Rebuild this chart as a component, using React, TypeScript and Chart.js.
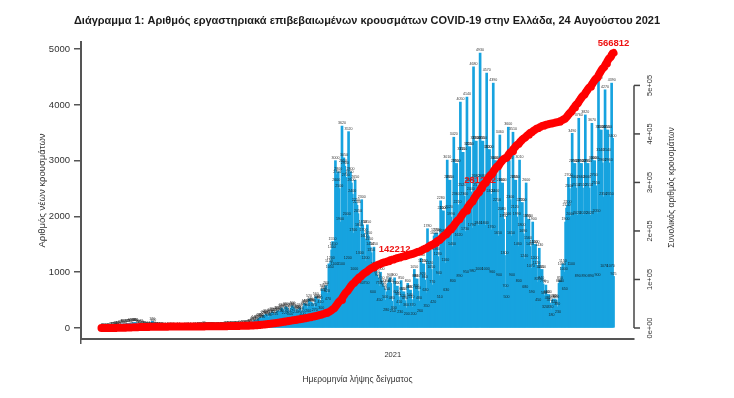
import React, { useEffect, useRef } from "react";
import { Chart, registerables } from "chart.js";

Chart.register(...registerables);

const TITLE =
  "Διάγραμμα 1: Αριθμός εργαστηριακά επιβεβαιωμένων κρουσμάτων COVID-19 στην Ελλάδα, 24 Αυγούστου 2021";
const Y_LEFT_TITLE = "Αριθμός νέων κρουσμάτων";
const Y_RIGHT_TITLE = "Συνολικός αριθμός κρουσμάτων";
const X_TITLE = "Ημερομηνία λήψης δείγματος";

// Daily new cases by sample date (day 0 = 26 Feb 2020)
const feb2020 = [1, 1, 2, 0];
const mar2020 = [2, 3, 4, 5, 8, 12, 18, 23, 15, 26, 28, 31, 38, 45, 30, 40, 52, 60, 75, 68, 62, 48, 70, 80, 72, 78, 85, 71, 52, 90, 96];
const apr2020 = [90, 100, 85, 70, 62, 55, 60, 72, 56, 48, 40, 35, 28, 25, 30, 34, 28, 24, 20, 120, 100, 40, 25, 22, 18, 20, 15, 12, 16, 14];
const may2020 = [15, 12, 10, 8, 14, 11, 9, 13, 10, 7, 12, 15, 9, 8, 11, 6, 10, 14, 12, 8, 5, 9, 11, 7, 6, 13, 10, 12, 9, 15, 11];
const jun2020 = [9, 12, 8, 15, 11, 14, 10, 18, 22, 16, 12, 20, 25, 35, 28, 19, 14, 20, 24, 17, 13, 18, 22, 26, 15, 12, 19, 23, 21, 17];
const jul2020 = [18, 25, 22, 30, 20, 28, 35, 32, 26, 40, 38, 30, 45, 42, 28, 36, 48, 44, 32, 25, 40, 46, 52, 38, 30, 55, 60, 48, 52, 62, 58];
const aug2020 = [72, 80, 65, 95, 110, 125, 140, 118, 102, 150, 160, 175, 190, 168, 140, 220, 230, 210, 250, 240, 195, 180, 260, 270, 245, 290, 265, 230, 205, 280, 300];
const sep2020 = [310, 290, 250, 340, 360, 330, 270, 220, 380, 370, 350, 310, 260, 200, 360, 400, 380, 350, 290, 230, 330, 320, 310, 360, 310, 250, 200, 380, 440, 410];
const oct2020 = [430, 360, 260, 520, 470, 460, 450, 430, 370, 270, 560, 500, 510, 520, 490, 410, 300, 700, 640, 660, 720, 760, 620, 470, 1150, 1050, 1200, 1400, 1550, 1450, 1100];
const nov2020 = [3000, 2600, 2750, 2800, 2500, 1900, 1100, 3620, 2950, 3050, 2900, 2700, 2000, 1200, 3520, 2750, 2800, 2600, 2400, 1700, 1000, 2650, 2250, 2200, 2050, 1800, 1300, 750, 2300, 1850];
const dec2020 = [1700, 1600, 1200, 750, 1850, 1650, 1550, 1450, 1350, 1000, 600, 1450, 1100, 1050, 950, 900, 750, 450, 1000, 850, 800, 750, 700, 500, 280, 650, 800, 850, 900, 800, 480];
const jan2021 = [250, 300, 900, 750, 600, 750, 560, 410, 230, 850, 650, 520, 650, 490, 360, 200, 800, 680, 540, 680, 510, 370, 200, 1050, 880, 700, 880, 660, 480, 260, 1250];
const feb2021 = [1150, 920, 1150, 860, 630, 350, 1780, 1400, 1120, 1400, 1050, 770, 420, 1650, 1700, 1360, 1700, 1280, 940, 510, 2280, 2100, 1680, 2100, 1580, 1160, 630, 3010];
const mar2021 = [2650, 2120, 2650, 1990, 1460, 800, 3420, 2950, 2360, 2950, 2210, 1620, 890, 4050, 3150, 2520, 3150, 2360, 1730, 950, 4140, 3250, 2600, 3250, 2440, 1790, 980, 4680, 3350, 2680, 3350];
const apr2021 = [2510, 1840, 1000, 4930, 3350, 2680, 3350, 2510, 1840, 1000, 4570, 3200, 2560, 3200, 2400, 1760, 960, 4390, 3000, 2400, 3000, 2250, 1650, 900, 3460, 2600, 2080, 2600, 1950, 1300];
const may2021 = [700, 500, 2000, 3600, 3000, 2300, 1650, 900, 3510, 2650, 2120, 2650, 1990, 1460, 800, 3010, 2250, 1800, 2250, 1690, 1240, 680, 2600, 1950, 1560, 1950, 1460, 1070, 590, 1900, 1500];
const jun2021 = [1200, 1500, 1120, 820, 450, 1430, 1050, 840, 1050, 790, 580, 320, 770, 600, 480, 600, 450, 330, 180, 500, 520, 420, 520, 500, 380, 230, 800, 850, 800, 1090];
const jul2021 = [1150, 1000, 650, 1900, 2150, 2200, 2700, 2500, 2000, 1100, 3490, 2950, 2660, 2950, 2510, 2020, 890, 3760, 2950, 2660, 2950, 2510, 2020, 890, 3820, 2950, 2660, 2950, 2510, 2020, 890];
const aug2021 = [3670, 3000, 2700, 3000, 2550, 2050, 900, 4440, 3550, 3140, 3550, 2960, 2350, 1070, 4270, 3550, 3140, 3550, 2960, 2350, 1070, 4390, 3400, 925];

const leftTicks = [0, 1000, 2000, 3000, 4000, 5000];
const rightTicks = [0, 100000, 200000, 300000, 400000, 500000];
const rightTickLabels = ["0e+00", "1e+05", "2e+05", "3e+05", "4e+05", "5e+05"];
const xTickDays = [310];
const xTickLabels = ["2021"];
const cumLabelDays = [312, 403, 545];
const cumLabelTexts = ["142212", "281212", "566812"];

const dailyCases: number[] = [
  feb2020, mar2020, apr2020, may2020, jun2020, jul2020, aug2020, sep2020, oct2020, nov2020, dec2020,
  jan2021, feb2021, mar2021, apr2021, may2021, jun2021, jul2021, aug2021,
].flat();
const dayIndex = dailyCases.map((_, i) => i);
const cumulativeCases: number[] = [];
dailyCases.reduce((acc, v) => {
  const s = acc + v;
  cumulativeCases.push(s);
  return s;
}, 0);

const FONT = "Liberation Sans";

const titlePlugin = {
  id: "pageTitle",
  afterDraw(chart: any) {
    const ctx = chart.ctx;
    ctx.save();
    ctx.font = `bold 11px '${FONT}'`;
    ctx.fillStyle = "#1a1a1a";
    ctx.textAlign = "center";
    ctx.textBaseline = "middle";
    ctx.fillText(TITLE, chart.width / 2, 21);
    ctx.restore();
  },
};

const valueLabelPlugin = {
  id: "valueLabels",
  afterDatasetDraw(chart: any, args: any) {
    if (args.index !== 0) return;
    const ctx = chart.ctx;
    ctx.save();
    ctx.font = `3.6px '${FONT}'`;
    ctx.fillStyle = "rgba(25,25,25,0.9)";
    ctx.textAlign = "center";
    ctx.textBaseline = "bottom";
    args.meta.data.forEach((el: any, i: number) => {
      ctx.fillText(String(dailyCases[i]), el.x, el.y - 1);
    });
    ctx.restore();
  },
};

const cumLabelPlugin = {
  id: "cumLabels",
  beforeDatasetDraw(chart: any, args: any) {
    if (args.index !== 1) return;
    const ctx = chart.ctx;
    const xs = chart.scales.x;
    const ys = chart.scales.y2;
    ctx.save();
    ctx.font = `bold 9.5px '${FONT}'`;
    ctx.fillStyle = "#ee1111";
    ctx.textAlign = "center";
    ctx.textBaseline = "middle";
    cumLabelDays.forEach((d, i) => {
      const x = xs.getPixelForValue(d);
      const y = ys.getPixelForValue(cumulativeCases[d]) - 9.5;
      ctx.fillText(cumLabelTexts[i], x, y);
    });
    ctx.restore();
  },
};

const rightAxisPlugin = {
  id: "rightAxis",
  afterDraw(chart: any) {
    const ctx = chart.ctx;
    const ys = chart.scales.y2;
    const x0 = chart.chartArea.right;
    ctx.save();
    ctx.strokeStyle = "#444";
    ctx.lineWidth = 1.5;
    ctx.beginPath();
    ctx.moveTo(x0, ys.getPixelForValue(rightTicks[0]));
    ctx.lineTo(x0, ys.getPixelForValue(rightTicks[rightTicks.length - 1]));
    ctx.stroke();
    ctx.fillStyle = "#333";
    ctx.font = `7.5px '${FONT}'`;
    ctx.textAlign = "center";
    ctx.textBaseline = "middle";
    rightTicks.forEach((v, i) => {
      const y = ys.getPixelForValue(v);
      ctx.beginPath();
      ctx.moveTo(x0, y);
      ctx.lineTo(x0 + 6, y);
      ctx.stroke();
      ctx.save();
      ctx.translate(x0 + 16, y);
      ctx.rotate(-Math.PI / 2);
      ctx.fillText(rightTickLabels[i], 0, 0);
      ctx.restore();
    });
    const area = chart.chartArea;
    ctx.save();
    ctx.font = `8.5px '${FONT}'`;
    ctx.translate(x0 + 38, (area.top + area.bottom) / 2 - 3);
    ctx.rotate(-Math.PI / 2);
    ctx.fillText(Y_RIGHT_TITLE, 0, 0);
    ctx.restore();
    ctx.restore();
  },
};

export default function App() {
  const ref = useRef<HTMLCanvasElement>(null);

  useEffect(() => {
    if (!ref.current) return;
    const nMax = Math.max(...dailyCases);
    const cMax = cumulativeCases[cumulativeCases.length - 1];
    const nDays = dailyCases.length - 1;
    const pad = 0.04;

    const chart = new Chart(ref.current, {
      type: "bar",
      data: {
        datasets: [
          {
            type: "bar",
            label: "daily",
            data: dayIndex.map((i) => ({ x: i, y: dailyCases[i] })),
            backgroundColor: "#17a3df",
            borderWidth: 0,
            barThickness: 2,
            yAxisID: "y",
            xAxisID: "x",
            order: 2,
          } as any,
          {
            type: "line",
            label: "cumulative",
            data: dayIndex.map((i) => ({ x: i, y: cumulativeCases[i] })),
            borderColor: "#ff0000",
            borderWidth: 8,
            pointRadius: 0,
            tension: 0,
            borderCapStyle: "round",
            borderJoinStyle: "round",
            yAxisID: "y2",
            xAxisID: "x",
            order: 1,
          } as any,
        ],
      },
      options: {
        animation: false,
        responsive: false,
        devicePixelRatio: 1,
        events: [],
        layout: { padding: { top: 42, right: 100, left: 0, bottom: 0 } },
        plugins: {
          legend: { display: false },
          tooltip: { enabled: false },
          title: { display: false },
        },
        scales: {
          x: {
            type: "linear",
            min: -pad * nDays,
            max: nDays * (1 + pad),
            offset: false,
            grid: { display: true, drawOnChartArea: false, drawTicks: true, tickLength: 5, color: "#555", lineWidth: 1.5 },
            border: { display: true, color: "#555", width: 2 },
            afterBuildTicks: (s: any) => {
              s.ticks = xTickDays.map((v) => ({ value: v }));
            },
            ticks: {
              callback: (_v: any, idx: number) => xTickLabels[idx] ?? "",
              font: { family: FONT, size: 7.5 },
              color: "#333",
              padding: 6,
              maxRotation: 0,
              autoSkip: false,
            },
            title: {
              display: true,
              text: X_TITLE,
              font: { family: FONT, size: 8.5 },
              color: "#333",
              padding: { top: 0, bottom: 13 },
            },
            afterFit: (s: any) => {
              s.height = 59;
            },
          } as any,
          y: {
            type: "linear",
            position: "left",
            min: -pad * nMax,
            max: nMax * (1 + pad),
            grid: { display: true, drawOnChartArea: false, drawTicks: true, tickLength: 7, color: "#555", lineWidth: 1.5 },
            border: { display: true, color: "#555", width: 2 },
            afterBuildTicks: (s: any) => {
              s.ticks = leftTicks.map((v) => ({ value: v }));
            },
            ticks: {
              callback: (v: any) => String(v),
              font: { family: FONT, size: 9.5 },
              color: "#333",
              padding: 4,
            },
            title: {
              display: true,
              text: Y_LEFT_TITLE,
              font: { family: FONT, size: 9.5 },
              color: "#333",
              padding: { top: 37, bottom: 0 },
            },
            afterFit: (s: any) => {
              s.width = 81;
            },
          } as any,
          y2: {
            type: "linear",
            position: "right",
            display: false,
            min: -pad * cMax,
            max: cMax * (1 + pad),
          } as any,
        },
      },
      plugins: [titlePlugin, valueLabelPlugin, cumLabelPlugin, rightAxisPlugin],
    } as any);

    return () => chart.destroy();
  }, []);

  return (
    <div style={{ position: "fixed", left: 0, top: 0, width: 734, height: 398, background: "#fff" }}>
      <canvas ref={ref} width={734} height={398} style={{ display: "block", width: 734, height: 398 }} />
    </div>
  );
}
